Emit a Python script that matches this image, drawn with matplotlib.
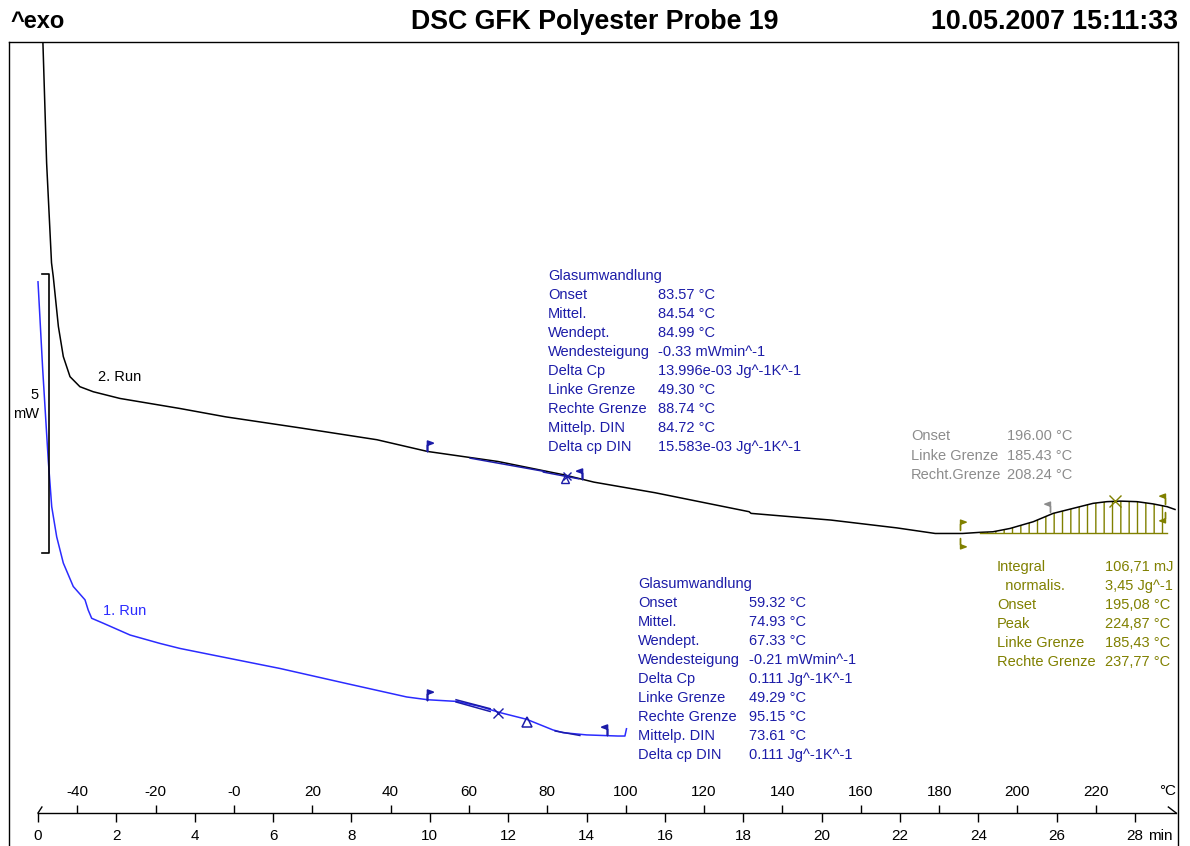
import numpy as np
import matplotlib
matplotlib.use("Agg")
import matplotlib.pyplot as plt
from matplotlib.path import Path

plt.rcParams['font.family'] = ['Liberation Sans', 'DejaVu Sans']
plt.rcParams['hatch.linewidth'] = 1.0

# 2. Run (black), time in min, heat flow in mW (arbitrary offset)
t_run2 = [0.11, 0.22, 0.345, 0.39, 0.52, 0.646, 0.817, 1.07, 1.41, 2.09, 3.62, 4.79, 6.71, 8.65,
          9.94, 11.74, 13.43, 14.19, 15.75, 18.15, 18.2, 20.24, 21.92, 22.9, 23.6, 24.04, 24.37,
          24.81, 25.40, 25.91, 26.42, 26.93, 27.28, 27.62, 28.05, 28.46, 28.82, 29.02]
v_run2 = [9.50, 6.99, 5.20, 4.95, 4.06, 3.52, 3.16, 2.98, 2.89, 2.77, 2.59, 2.44, 2.24, 2.03,
          1.82, 1.64, 1.40, 1.27, 1.08, 0.74, 0.71, 0.59, 0.45, 0.35, 0.35, 0.37, 0.38,
          0.44, 0.56, 0.71, 0.80, 0.89, 0.92, 0.93, 0.92, 0.88, 0.83, 0.78]

# 1. Run (blue)
t_run1 = [0.0, 0.12, 0.263, 0.306, 0.35, 0.477, 0.646, 0.90, 1.20, 1.28, 1.37, 1.67, 2.35, 3.11,
          3.62, 4.47, 6.18, 7.88, 9.41, 9.95, 10.69, 11.28, 11.79, 12.47, 13.14, 13.40, 14.00,
          14.80, 14.98, 15.02]
v_run1 = [4.86, 3.29, 1.65, 1.25, 0.83, 0.29, -0.18, -0.60, -0.84, -1.02, -1.17, -1.26, -1.47, -1.62,
          -1.71, -1.83, -2.07, -2.34, -2.58, -2.63, -2.66, -2.75, -2.86, -2.98, -3.17, -3.22, -3.26,
          -3.28, -3.28, -3.15]

# evaluation markers (time, mW)
gt2_left = (9.93, 1.82)
gt2_right = (13.874, 1.33)
gt2_infl = (13.499, 1.38)
gt2_mid = (13.454, 1.33)
gt2_tangents = [([11.03, 12.94], [1.70, 1.46]), ([12.9, 13.8], [1.45, 1.33])]

gt1_left = (9.929, -2.63)
gt1_right = (14.515, -3.26)
gt1_infl = (11.733, -2.86)
gt1_mid = (12.493, -3.03)
gt1_tangents = [([10.67, 11.54], [-2.63, -2.79]), ([10.67, 11.54], [-2.67, -2.84]),
                ([13.2, 13.83], [-3.19, -3.27])]

peak_lim = (24.04, 28.82)
peak_base = 0.355
peak_x = (27.487, 0.925)
olive_up = ([23.543, 28.777], [0.41, 0.88])
olive_dn = ([23.543, 28.777], [0.27, 0.73])
gray_flag = (25.824, 0.74)

# bottom axis
time_ticks = list(range(0, 29, 2))
temp_ticks = list(range(-40, 221, 20))
temp_labels = ['-40', '-20', '-0'] + [str(v) for v in range(20, 221, 20)]

navy = '#1c1ca8'
blue = '#2b2bff'
olive = '#808000'
gray = '#8c8c8c'

W, H = 1190, 846
fig = plt.figure(figsize=(W / 100, H / 100), dpi=100)


def fx(x):
    return x / W


def fy(y):
    return 1 - y / H


ax = fig.add_axes([fx(9), 0, fx(1178) - fx(9), fy(42)])
ax.set_xlim((9 - 38) / 39.18, (1178 - 38) / 39.18)
ax.set_ylim((553 - 846) / 55.8, (553 - 42) / 55.8)
ax.set_xticks([])
ax.set_yticks([])
ax.spines['bottom'].set_visible(False)
for s in ['left', 'top', 'right']:
    ax.spines[s].set_linewidth(1.0)

ax.plot(t_run2, v_run2, color='black', lw=1.1)
ax.plot(t_run1, v_run1, color=blue, lw=1.1)

# integral hatch
t2 = np.array(t_run2)
v2 = np.array(v_run2)
mask = (t2 >= peak_lim[0]) & (t2 <= peak_lim[1])
ax.fill_between(t2, v2, peak_base, where=mask, facecolor='none', edgecolor=olive,
                hatch='||', lw=0)
ax.plot(peak_lim, [peak_base, peak_base], color=olive, lw=1)

# flag markers
M, L, C = Path.MOVETO, Path.LINETO, Path.CLOSEPOLY
flag_r = Path([(0, 0), (0, 1), (0.55, 0.8), (0, 0.6), (0, 0)], [M, L, L, L, C])
flag_l = Path([(0, 0), (0, 1), (-0.55, 0.8), (0, 0.6), (0, 0)], [M, L, L, L, C])
flag_r_dn = Path([(0, 0), (0, -1), (0.55, -0.8), (0, -0.6), (0, 0)], [M, L, L, L, C])
flag_l_dn = Path([(0, 0), (0, -1), (-0.55, -0.8), (0, -0.6), (0, 0)], [M, L, L, L, C])

for (tl, vl), (tr, vr), col in [(gt2_left, gt2_right, navy), (gt1_left, gt1_right, navy)]:
    ax.plot(tl, vl, marker=flag_r, ms=15, color=col, mew=1.2)
    ax.plot(tr, vr, marker=flag_l, ms=15, color=col, mew=1.2)

for pts in (gt2_tangents, gt1_tangents):
    for tt, vv in pts:
        ax.plot(tt, vv, color=navy, lw=1.1)

ax.plot(*gt2_infl, marker='x', ms=6, color=navy, mew=1)
ax.plot(*gt2_mid, marker='^', ms=6, mfc='none', color=navy, mew=1)
ax.plot(*gt1_infl, marker='x', ms=7, color=navy, mew=1)
ax.plot(*gt1_mid, marker='^', ms=7, mfc='none', color=navy, mew=1.1)

ax.plot(olive_up[0][0], olive_up[1][0], marker=flag_r, ms=15, color=olive, mew=1)
ax.plot(olive_up[0][1], olive_up[1][1], marker=flag_l, ms=15, color=olive, mew=1)
ax.plot(olive_dn[0][0], olive_dn[1][0], marker=flag_r_dn, ms=15, color=olive, mew=1)
ax.plot(olive_dn[0][1], olive_dn[1][1], marker=flag_l_dn, ms=15, color=olive, mew=1)
ax.plot(*peak_x, marker='x', ms=8, color=olive, mew=1)
ax.plot(*gray_flag, marker=flag_l, ms=15, color=gray, mew=1)

# 5 mW scale bar
ax.plot([0.10, 0.288, 0.288, 0.10], [5, 5, 0, 0], color='black', lw=1.2)

# bottom axis with time (min) below and temperature (°C) above
ax_t = fig.add_axes([fx(9), fy(813), fx(1178) - fx(9), 1e-5])
ax_t.set_xlim(ax.get_xlim())
ax_t.patch.set_visible(False)
ax_t.set_yticks([])
for s in ['left', 'top', 'right']:
    ax_t.spines[s].set_visible(False)
ax_t.spines['bottom'].set_bounds(0, 29.05)
ax_t.spines['bottom'].set_linewidth(1.0)
ax_t.set_xticks(time_ticks, [str(v) for v in time_ticks])
ax_t.tick_params(axis='x', direction='out', length=6.5, width=1, pad=5, labelsize=11)
sec = ax_t.secondary_xaxis('top', functions=(lambda t: t * 10 - 50, lambda T: (T + 50) / 10))
sec.set_ticks(temp_ticks, labels=temp_labels)
sec.tick_params(axis='x', direction='out', length=6, width=1, pad=4, labelsize=11)
sec.spines['top'].set_visible(False)
bt = matplotlib.transforms.blended_transform_factory(ax.transData, ax.transAxes)
ax.plot([28.85, 29.05], [(846 - 807) / 804, (846 - 813) / 804], color='black', lw=1, transform=bt,
        clip_on=False)
ax.plot([0, 0.1], [(846 - 813) / 804, (846 - 807) / 804], color='black', lw=1, transform=bt,
        clip_on=False)

# header
fig.text(fx(10), fy(22), '^exo', fontsize=17, fontweight='bold', va='center', ha='left')
fig.text(fx(595), fy(22), 'DSC GFK Polyester Probe 19', fontsize=19.3, fontweight='bold',
         va='center', ha='center')
fig.text(fx(1178), fy(22), '10.05.2007 15:11:33', fontsize=19.3, fontweight='bold',
         va='center', ha='right')

fig.text(fx(1176), fy(791), '°C', fontsize=11, va='center', ha='right')
fig.text(fx(1148), fy(836), 'min', fontsize=11, va='center', ha='left')

fig.text(fx(39), fy(395), '5', fontsize=10.5, va='center', ha='right')
fig.text(fx(39), fy(414), 'mW', fontsize=10.5, va='center', ha='right')
fig.text(fx(98), fy(377), '2. Run', fontsize=10.5, va='center', ha='left')
fig.text(fx(103), fy(611), '1. Run', fontsize=10.5, va='center', ha='left', color=blue)


def block(x1, x2, y0, rows, col, step=18.95):
    for i, (a, b) in enumerate(rows):
        fig.text(fx(x1), fy(y0 + i * step), a, fontsize=10.5, va='center', ha='left', color=col)
        if b:
            fig.text(fx(x2), fy(y0 + i * step), b, fontsize=10.5, va='center', ha='left', color=col)


rows2 = [('Glasumwandlung', ''), ('Onset', '83.57 °C'), ('Mittel.', '84.54 °C'),
         ('Wendept.', '84.99 °C'), ('Wendesteigung', '-0.33 mWmin^-1'),
         ('Delta Cp', '13.996e-03 Jg^-1K^-1'), ('Linke Grenze', '49.30 °C'),
         ('Rechte Grenze', '88.74 °C'), ('Mittelp. DIN', '84.72 °C'),
         ('Delta cp DIN', '15.583e-03 Jg^-1K^-1')]
rows1 = [('Glasumwandlung', ''), ('Onset', '59.32 °C'), ('Mittel.', '74.93 °C'),
         ('Wendept.', '67.33 °C'), ('Wendesteigung', '-0.21 mWmin^-1'),
         ('Delta Cp', '0.111 Jg^-1K^-1'), ('Linke Grenze', '49.29 °C'),
         ('Rechte Grenze', '95.15 °C'), ('Mittelp. DIN', '73.61 °C'),
         ('Delta cp DIN', '0.111 Jg^-1K^-1')]
rows_gray = [('Onset', '196.00 °C'), ('Linke Grenze', '185.43 °C'), ('Recht.Grenze', '208.24 °C')]
rows_olive = [('Integral', '106,71 mJ'), ('  normalis.', '3,45 Jg^-1'), ('Onset', '195,08 °C'),
              ('Peak', '224,87 °C'), ('Linke Grenze', '185,43 °C'), ('Rechte Grenze', '237,77 °C')]

block(548, 658, 276, rows2, navy)
block(638, 749, 584, rows1, navy)
block(911, 1007, 436, rows_gray, gray, step=19.5)
block(997, 1105, 567, rows_olive, olive, step=19)

fig.savefig('out.png', dpi=100)
